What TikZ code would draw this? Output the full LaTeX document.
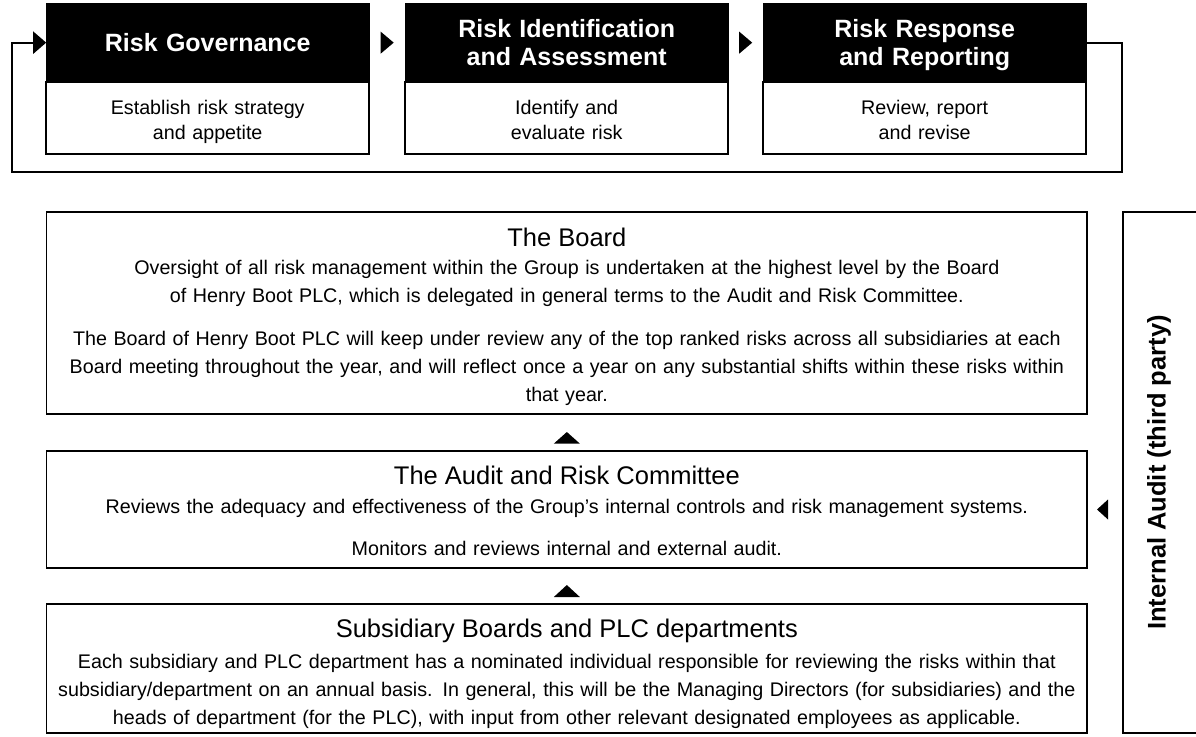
\documentclass[tikz,border=0pt]{standalone}
\usepackage{fontspec}
\setmainfont{Liberation Sans}
\usetikzlibrary{calc,arrows.meta}
\begin{document}
\begin{tikzpicture}[x=1pt,y=-1pt,
  hdr/.style={fill=black,draw=black,line width=1.2pt,minimum width=323pt,minimum height=78.7pt,inner sep=0pt,outer sep=0pt},
  bdy/.style={fill=white,draw=black,line width=1.5pt,minimum width=323pt,minimum height=72pt,inner sep=0pt,outer sep=0pt},
  big/.style={draw=black,line width=1.5pt,minimum width=1040.3pt,minimum height=#1,inner sep=0pt,outer sep=0pt},
  htxt/.style={text=white,font=\bfseries\fontsize{25}{28}\selectfont,anchor=base,inner sep=0pt,align=center,text width=320pt},
  stxt/.style={font=\fontsize{19.7}{25}\selectfont,anchor=base,inner sep=0pt,align=center,text width=320pt},
  ttl/.style={font=\fontsize{25.5}{30}\selectfont,anchor=base,inner sep=0pt},
  para/.style={font=\fontsize{19.7}{28}\selectfont,anchor=base,inner sep=0pt,align=center,text width=1036pt},
  tri/.style={fill=black,draw=none},
  loopline/.style={draw=black,line width=2pt,-{Triangle[length=13pt,width=22pt]}}
]
\useasboundingbox[fill=white] (0,0) rectangle (1196,736);

% top process boxes
\node[hdr] (h1) at (207.7,42.65) {};
\node[bdy] (b1) at (207.7,118) {};
\node[hdr] (h2) at (566.7,42.65) {};
\node[bdy] (b2) at (566.7,118) {};
\node[hdr] (h3) at (924.7,42.65) {};
\node[bdy] (b3) at (924.7,118) {};

\node[htxt] (t1) at (207.7,51.5) {Risk Governance};
\node[htxt] (t2) at (566.7,37.5) {Risk Identification\\and Assessment};
\node[htxt] (t3) at (924.7,37.5) {Risk Response\\and Reporting};
\node[stxt] (s1) at (207.7,114) {Establish risk strategy\\and appetite};
\node[stxt] (s2) at (566.7,114) {Identify and\\evaluate risk};
\node[stxt] (s3) at (924.7,114) {Review, report\\and revise};

% arrows between top boxes
\fill[tri] ($(h1.east)!.5!(h2.west)+(-6.5,-11)$) -- ++(13,11) -- ++(-13,11) -- cycle;
\fill[tri] ($(h2.east)!.5!(h3.west)+(-6.5,-11)$) -- ++(13,11) -- ++(-13,11) -- cycle;

% feedback loop
\draw[loopline] (h3.east) -- ++(36,0) |- (12,172) |- (h1.west);

% governance boxes
\node[big=202pt] (board) at (566.85,313) {};
\node[big=117pt] (arc) at (566.85,509.5) {};
\node[big=129pt] (sub) at (566.85,668.5) {};

\node[ttl] (boardT) at (566.85,246) {The Board};
\node[para] (boardP) at (566.85,274) {Oversight of all risk management within the Group is undertaken at the highest level by the Board\\of Henry Boot PLC, which is delegated in general terms to the Audit and Risk Committee.\\[15pt]The Board of Henry Boot PLC will keep under review any of the top ranked risks across all subsidiaries at each\\Board meeting throughout the year, and will reflect once a year on any substantial shifts within these risks within\\that year.};

\node[ttl] (arcT) at (566.85,484) {The Audit and Risk Committee};
\node[para] (arcP) at (566.85,513) {Reviews the adequacy and effectiveness of the Group's internal controls and risk management systems.\\[14pt]Monitors and reviews internal and external audit.};

\node[ttl] (subT) at (566.85,637) {Subsidiary Boards and PLC departments};
\node[para] (subP) at (566.85,668) {Each subsidiary and PLC department has a nominated individual responsible for reviewing the risks within that\\subsidiary/department on an annual basis. In general, this will be the Managing Directors (for subsidiaries) and the\\heads of department (for the PLC), with input from other relevant designated employees as applicable.};

% upward arrows
\fill[tri] ($(board.south)!.5!(arc.north)+(0,-0.5)$) -- ++(13,11.6) -- ++(-26,0) -- cycle;
\fill[tri] ($(arc.south)!.5!(sub.north)+(0,-1)$) -- ++(13,12) -- ++(-26,0) -- cycle;

% internal audit
\coordinate (iaTL) at (1123,212);
\coordinate (iaBL) at (1123,733);
\draw[line width=1.5pt] (1196,212) -- (iaTL) -- (iaBL) -- (1196,733);
\node[rotate=90,font=\bfseries\fontsize{25.5}{30}\selectfont,inner sep=0pt] (ia) at (1159,472.5) {Internal Audit (third party)};
\coordinate (ltip) at (1097,509.5);
\fill[tri] (ltip) -- ++(11,-10) -- ++(0,20) -- cycle;
\end{tikzpicture}
\end{document}
